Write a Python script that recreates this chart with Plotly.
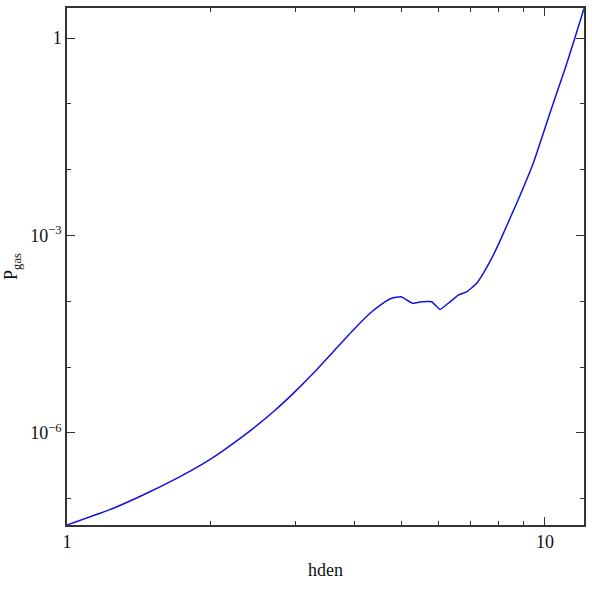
import plotly.graph_objects as go
import math

hden = [1.0, 1.25, 1.491, 1.751, 2.008, 2.228, 2.453, 2.702, 2.975, 3.276, 3.607,
        3.972, 4.305, 4.554, 4.778, 5.0, 5.287, 5.522, 5.794, 6.03, 6.277, 6.587,
        6.859, 7.197, 7.429, 7.75, 8.05, 8.727, 9.452, 10.24, 11.0, 11.55, 12.07]
p_gas = [3.97e-8, 7.13e-8, 1.27e-7, 2.29e-7, 4.09e-7, 6.92e-7, 1.17e-6, 2.09e-6,
         3.98e-6, 8.02e-6, 1.71e-5, 3.65e-5, 6.55e-5, 9.06e-5, 1.11e-4, 1.17e-4,
         9.3e-5, 9.8e-5, 9.8e-5, 7.5e-5, 9.3e-5, 1.24e-4, 1.39e-4, 1.87e-4,
         2.65e-4, 4.6e-4, 8.2e-4, 3.08e-3, 1.25e-2, 7.17e-2, 0.33, 1.0, 2.8]

x_major = [1, 10]
x_major_text = ["1", "10"]
x_minor = [2, 3, 4, 5, 6, 7, 8, 9]
y_major = [1, 1e-3, 1e-6]
y_major_text = ["1", "10<sup>\u22123</sup>", "10<sup>\u22126</sup>"]
y_minor = [1e-1, 1e-2, 1e-4, 1e-5, 1e-7]

font = "Liberation Serif"
x_range = [0, math.log10(12.07)]
y_range = [-7.401, 0.456]
axis_color = "#333333"

fig = go.Figure()
fig.add_trace(go.Scatter(x=hden, y=p_gas, mode="lines",
                         line=dict(color="#1212dc", width=1.5, shape="spline", smoothing=0.4)))
# invisible trace to activate mirrored top/right axes
fig.add_trace(go.Scatter(x=[hden[0]], y=[p_gas[0]], xaxis="x2", yaxis="y2",
                         mode="markers", marker=dict(opacity=0), hoverinfo="skip"))

def base_axis():
    return dict(
        type="log", showgrid=False, zeroline=False,
        showline=True, linecolor=axis_color, linewidth=1.5,
        ticks="inside", ticklen=8, tickwidth=1, tickcolor=axis_color,
        tickfont=dict(family=font, size=18, color="#111111"),
    )

xminor = dict(tickmode="array", tickvals=x_minor, ticks="inside",
              ticklen=4, tickwidth=1, tickcolor=axis_color)
yminor = dict(tickmode="array", tickvals=y_minor, ticks="inside",
              ticklen=4, tickwidth=1, tickcolor=axis_color)

fig.update_layout(
    width=592, height=592,
    margin=dict(l=67, r=8, t=8, b=67),
    paper_bgcolor="white", plot_bgcolor="white",
    showlegend=False,
    xaxis=dict(**base_axis(), range=x_range,
               tickmode="array", tickvals=x_major, ticktext=x_major_text,
               minor=xminor,
               title=dict(text="hden", font=dict(family=font, size=18, color="#111111"),
                          standoff=12)),
    yaxis=dict(**base_axis(), range=y_range,
               tickmode="array", tickvals=y_major, ticktext=y_major_text,
               minor=yminor,
               title=dict(text="P<sub>gas</sub>", font=dict(family=font, size=18, color="#111111"),
                          standoff=8)),
    xaxis2=dict(**base_axis(), range=x_range, overlaying="x", side="top", anchor="y",
                tickmode="array", tickvals=x_major, showticklabels=False, minor=xminor),
    yaxis2=dict(**base_axis(), range=y_range, overlaying="y", side="right", anchor="x",
                tickmode="array", tickvals=y_major, showticklabels=False, minor=yminor),
)

fig.write_html("out.html", config={"displayModeBar": False},
               post_script="document.body.style.margin='0';")
